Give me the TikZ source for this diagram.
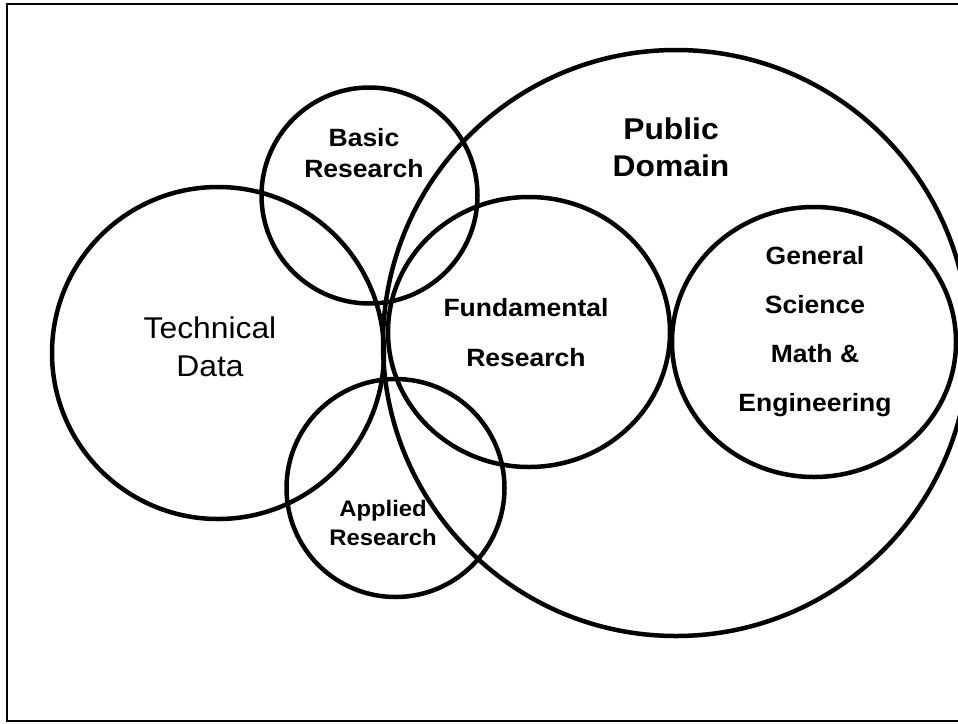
\documentclass[tikz,border=0pt]{standalone}
\usepackage{fontspec}
\setmainfont{Liberation Sans}[FakeStretch=1.06]
\begin{document}
\begin{tikzpicture}[x=1pt,y=-1pt,
  ring/.style={line width=4.5pt},
  lbl/.style={align=center,inner sep=0pt}]
\useasboundingbox (0,0) rectangle (958,723);
\clip (0,0) rectangle (958,723);
% frame (right side cropped)
\draw[line width=2pt] (975,4.3) -- (7,4.3) -- (7,721) -- (975,721);
% circles
\draw[ring] (218,353) circle[radius=166];            % Technical Data
\draw[ring] (369.5,195.5) circle[radius=108];        % Basic Research
\draw[ring] (395.5,488) circle[radius=109];          % Applied Research
\draw[ring] (676,343) circle[radius=293];            % Public Domain
\draw[ring] (529,332) ellipse[x radius=141,y radius=135]; % Fundamental Research
\draw[ring] (814,342) ellipse[x radius=142,y radius=135]; % General Science
% labels
\node[lbl,font=\bfseries\fontsize{25}{31}\selectfont] (basic) at (364,153) {Basic\\Research};
\node[lbl,font=\bfseries\fontsize{30}{37}\selectfont] (public) at (671,147) {Public\\Domain};
\node[lbl,font=\fontsize{30}{38.5}\selectfont] (tech) at (210,347) {Technical\\Data};
\node[lbl,font=\bfseries\fontsize{25}{50}\selectfont] (fund) at (526,333) {Fundamental\\Research};
\node[lbl,font=\bfseries\fontsize{25}{49}\selectfont] (gen) at (815,332) {General\\Science\\Math \&\\Engineering};
\node[lbl,font=\bfseries\fontsize{22.5}{29}\selectfont] (applied) at (383,523) {Applied\\Research};
\end{tikzpicture}
\end{document}
